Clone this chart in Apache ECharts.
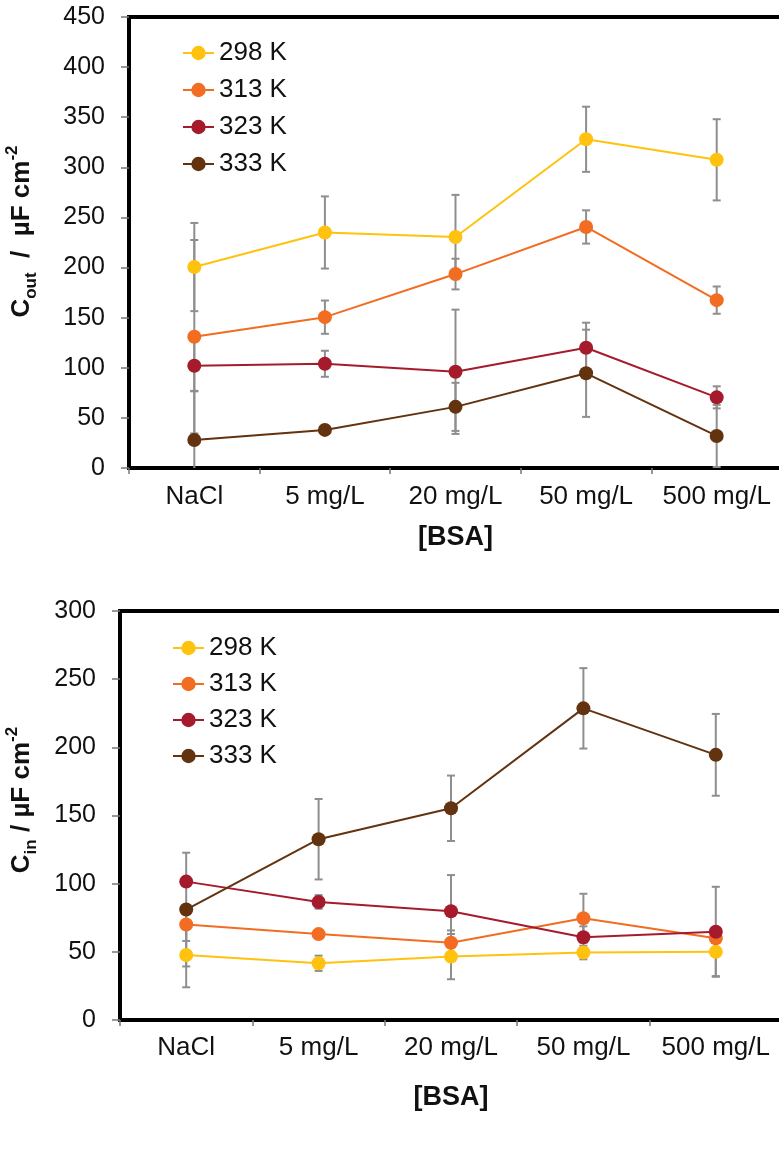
<!DOCTYPE html>
<html>
<head>
<meta charset="utf-8">
<script src="https://cdn.jsdelivr.net/npm/echarts@6/dist/echarts.min.js"></script>
<style>
  html, body { margin: 0; padding: 0; background: #fff; }
  #chart { width: 779px; height: 1149px; }
</style>
</head>
<body>
<div id="chart"></div>
<script>
// BSA concentrations (x categories) and temperatures (series)
const categories = ['NaCl', '5 mg/L', '20 mg/L', '50 mg/L', '500 mg/L'];
const temperatures = ['298 K', '313 K', '323 K', '333 K'];
const seriesColors = ['#FFC20E', '#F26C22', '#A61B2B', '#63320F'];

// Outer-layer capacitance C_out (µF cm^-2): means and ± errors
const cOut298 = [200.5, 235, 230.5, 328, 307.5];
const cOut313 = [131, 150.5, 193.5, 240.5, 167.5];
const cOut323 = [102, 104, 96, 120, 70.5];
const cOut333 = [28, 38, 61, 94.5, 32];
const cOutErr298 = [44, 36, 42, 32.5, 40.5];
const cOutErr313 = [96.5, 16.6, 15.3, 16.6, 13.6];
const cOutErr323 = [25.5, 13, 62, 25, 11];
const cOutErr333 = [49, 3, 24, 43.5, 31];

// Inner-layer capacitance C_in (µF cm^-2): means and ± errors
const cIn298 = [47.7, 41.6, 46.5, 49.5, 50];
const cIn313 = [70, 63, 56.7, 74.6, 60];
const cIn323 = [101.5, 86.6, 79.8, 60.7, 64.7];
const cIn333 = [81, 132.6, 155.3, 228.6, 194.5];
const cInErr298 = [23.7, 5.6, 16.6, 5, 17.8];
const cInErr313 = [12, 3, 9, 18, 3];
const cInErr323 = [3, 5, 26.5, 8, 33];
const cInErr333 = [41.7, 29.5, 24, 29.5, 30];

// Y-axis tick ranges
const cOutTicks = { min: 0, max: 450, interval: 50 };
const cInTicks = { min: 0, max: 300, interval: 50 };

const FONT = "'Liberation Sans', Arial, sans-serif";
const TEXT = '#111';
const ERR_COLOR = '#8E8E8E';

const outMeans = [cOut298, cOut313, cOut323, cOut333];
const outErrs = [cOutErr298, cOutErr313, cOutErr323, cOutErr333];
const inMeans = [cIn298, cIn313, cIn323, cIn333];
const inErrs = [cInErr298, cInErr313, cInErr323, cInErr333];

// Vertical ± bar with short caps, clipped to the plot area
function renderErrorBar(params, api) {
  const x = api.value(0);
  const top = api.coord([x, api.value(2)]);
  const bot = api.coord([x, api.value(1)]);
  const half = 4;
  const style = { stroke: ERR_COLOR, lineWidth: 2 };
  return {
    type: 'group',
    children: [
      { type: 'line', shape: { x1: top[0], y1: top[1], x2: bot[0], y2: bot[1] }, style },
      { type: 'line', shape: { x1: top[0] - half, y1: top[1], x2: top[0] + half, y2: top[1] }, style },
      { type: 'line', shape: { x1: bot[0] - half, y1: bot[1], x2: bot[0] + half, y2: bot[1] }, style }
    ]
  };
}

function buildSeries(means, errs, axisIndex) {
  const out = [];
  means.forEach((vals, i) => {
    out.push({
      name: temperatures[i] + ' err',
      type: 'custom',
      xAxisIndex: axisIndex,
      yAxisIndex: axisIndex,
      clip: true,
      z: 1,
      renderItem: renderErrorBar,
      encode: { x: 0, y: [1, 2] },
      data: vals.map((v, k) => [k, v - errs[i][k], v + errs[i][k]]),
      silent: true
    });
  });
  means.forEach((vals, i) => {
    out.push({
      name: temperatures[i],
      type: 'line',
      xAxisIndex: axisIndex,
      yAxisIndex: axisIndex,
      z: 3,
      symbol: 'circle',
      symbolSize: 14,
      color: seriesColors[i],
      lineStyle: { width: 2, color: seriesColors[i] },
      itemStyle: { color: seriesColors[i] },
      data: vals
    });
  });
  return out;
}

function yTitle(sub) {
  return '{m|C}{s|' + sub + '}{m|' + (sub === 'out' ? '  /  ' : ' / ') + 'µF cm}{p|-2}';
}

const yTitleRich = {
  m: { fontSize: 26, fontWeight: 'bold', fontFamily: FONT, color: TEXT, lineHeight: 36, verticalAlign: 'middle' },
  s: { fontSize: 17, fontWeight: 'bold', fontFamily: FONT, color: TEXT, lineHeight: 17, verticalAlign: 'bottom' },
  p: { fontSize: 17, fontWeight: 'bold', fontFamily: FONT, color: TEXT, lineHeight: 17, verticalAlign: 'top' }
};

function xAxisOpt(gridIndex, margin, nameGap) {
  return {
    type: 'category',
    gridIndex,
    data: categories,
    boundaryGap: true,
    axisLine: { show: false },
    axisTick: { show: true, length: 6, lineStyle: { color: '#777', width: 1.5 } },
    axisLabel: { fontSize: 26, fontFamily: FONT, color: TEXT, margin, interval: 0 },
    name: '[BSA]',
    nameLocation: 'middle',
    nameGap,
    nameTextStyle: { fontSize: 27, fontWeight: 'bold', fontFamily: FONT, color: TEXT }
  };
}

function yAxisOpt(gridIndex, ticks, sub, nameGap, shift) {
  return {
    type: 'value',
    gridIndex,
    min: ticks.min,
    max: ticks.max,
    interval: ticks.interval,
    splitLine: { show: false },
    axisLine: { show: false },
    axisTick: { show: true, length: 8, lineStyle: { color: '#777', width: 1.5 } },
    axisLabel: { fontSize: 25, fontFamily: FONT, color: TEXT, margin: 24 },
    name: yTitle(sub),
    nameLocation: 'middle',
    nameRotate: 90,
    nameGap,
    nameTextStyle: { rich: yTitleRich, padding: [0, 0, 0, shift] }
  };
}

const legendBase = {
  orient: 'vertical',
  padding: 0,
  itemWidth: 31,
  itemHeight: 18,
  data: temperatures,
  textStyle: { fontSize: 26, fontFamily: FONT, color: TEXT }
};

const chart = echarts.init(document.getElementById('chart'), null, { renderer: 'canvas' });
chart.setOption({
  animation: false,
  backgroundColor: '#fff',
  grid: [
    { left: 129, top: 17, width: 653, height: 451, show: true, borderColor: '#000', borderWidth: 4,
      backgroundColor: 'transparent', containLabel: false, outerBoundsMode: 'none' },
    { left: 120, top: 611, width: 662, height: 409, show: true, borderColor: '#000', borderWidth: 4,
      backgroundColor: 'transparent', containLabel: false, outerBoundsMode: 'none' }
  ],
  legend: [
    Object.assign({}, legendBase, { left: 182, top: 40, itemGap: 11 }),
    Object.assign({}, legendBase, { left: 172, top: 635, itemGap: 10 })
  ],
  xAxis: [xAxisOpt(0, 16, 56), xAxisOpt(1, 15, 64)],
  yAxis: [yAxisOpt(0, cOutTicks, 'out', 89, 22), yAxisOpt(1, cInTicks, 'in', 80, 31)],
  series: buildSeries(outMeans, outErrs, 0).concat(buildSeries(inMeans, inErrs, 1))
});
</script>
</body>
</html>
